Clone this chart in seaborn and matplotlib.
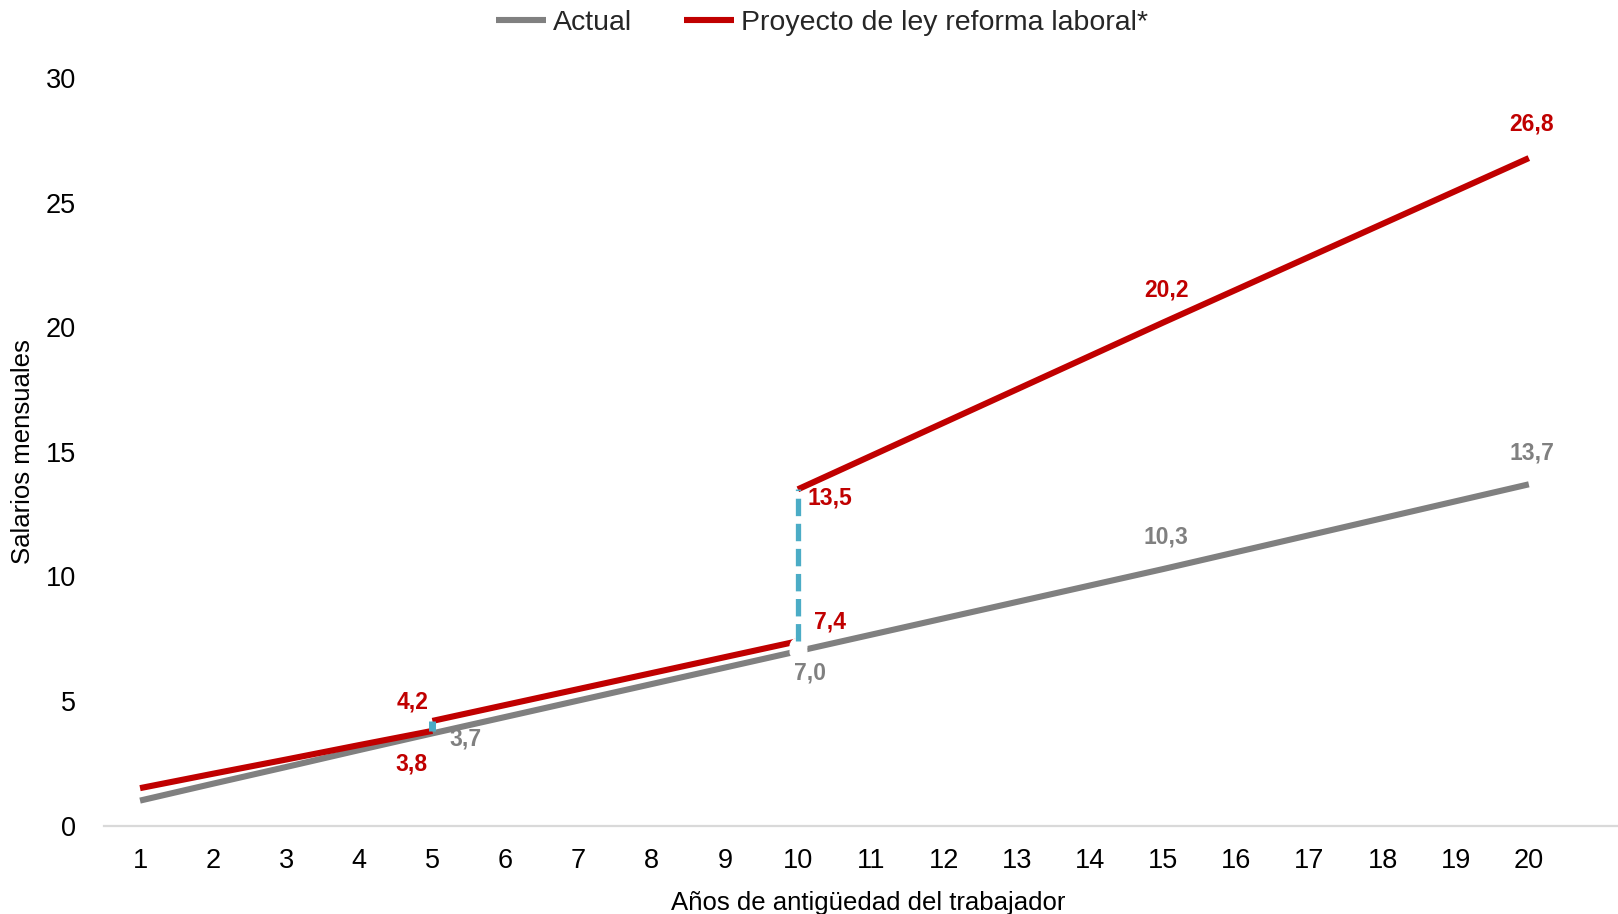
import matplotlib
matplotlib.use("Agg")
import matplotlib.pyplot as plt
import seaborn as sns
import pandas as pd

# Years of seniority and monthly-salary severance under each scheme
years = list(range(1, 21))
actual = [1.0, 1.68, 2.35, 3.03, 3.7, 4.36, 5.02, 5.68, 6.34, 7.0,
          7.66, 8.32, 8.98, 9.64, 10.3, 10.98, 11.66, 12.34, 13.02, 13.7]

# The reform scheme is piecewise, with steps at 5 and 10 years
reform_years_a = [1, 2, 3, 4, 5]
reform_a = [1.5, 2.08, 2.65, 3.23, 3.8]
reform_years_b = [5, 6, 7, 8, 9, 10]
reform_b = [4.2, 4.84, 5.48, 6.12, 6.76, 7.4]
reform_years_c = [10, 11, 12, 13, 14, 15, 16, 17, 18, 19, 20]
reform_c = [13.5, 14.84, 16.18, 17.52, 18.86, 20.2, 21.52, 22.84, 24.16, 25.48, 26.8]

series_labels = ["Actual", "Proyecto de ley reforma laboral*"]
x_label = "Años de antigüedad del trabajador"
y_label = "Salarios mensuales"
y_ticks = [0, 5, 10, 15, 20, 25, 30]

GRAY = "#808080"
RED = "#C00000"
BLUE = "#4BACC6"

sns.set_theme(style="white")
plt.rcParams["font.family"] = ["Liberation Sans", "DejaVu Sans"]

fig = plt.figure(figsize=(16.18, 9.14), dpi=100)
ax = fig.add_axes([104 / 1618, (914 - 825.5) / 914, 1 - 104 / 1618, (825.5 - 78.4) / 914])

lw = 4.4
df_actual = pd.DataFrame({"year": years, "value": actual})
sns.lineplot(data=df_actual, x="year", y="value", color=GRAY, lw=lw, ax=ax,
             label=series_labels[0], solid_capstyle="butt", zorder=3)

for i, (xs, ys) in enumerate([(reform_years_a, reform_a),
                              (reform_years_b, reform_b),
                              (reform_years_c, reform_c)]):
    seg = pd.DataFrame({"year": xs, "value": ys})
    sns.lineplot(data=seg, x="year", y="value", color=RED, lw=lw, ax=ax,
                 label=series_labels[1] if i == 0 else None,
                 solid_capstyle="butt", zorder=4)

# Step connectors
ax.plot([5, 5], [reform_a[-1], reform_b[0]], color=BLUE, lw=5,
        solid_capstyle="butt", zorder=6)
ax.plot([10, 10], [actual[9], actual[9] + 0.2], ls="none", marker="o",
        ms=12, mfc="white", mec="white", zorder=5)
ax.plot([10, 10], [reform_b[-1], reform_c[0]], color=BLUE, lw=3.8,
        dashes=(3.3, 1.45), zorder=6)

# Value labels: (x, value, colour, offset in px)
def label(x, v, color, dx, dy):
    ax.annotate(f"{v:.1f}".replace(".", ","), (x, v),
                xytext=(dx * 0.72, dy * 0.72), textcoords="offset points",
                ha="center", va="center", color=color, fontsize=16.5,
                fontweight="bold", zorder=7)

label(20, reform_c[-1], RED, 3, 34)
label(15, reform_c[5], RED, 3, 32)
label(20, actual[19], GRAY, 3, 31)
label(15, actual[14], GRAY, 3, 32)
label(10, reform_c[0], RED, 32, -9)
label(10, reform_b[-1], RED, 32, 19)
label(10, actual[9], GRAY, 12, -22)
label(5, reform_b[0], RED, -20, 19)
label(5, reform_a[-1], RED, -21, -33)
label(5, actual[4], GRAY, 33, -6)

ax.set_xlim(0.507, 21.22)
ax.set_ylim(0, 30)
ax.set_xticks(years)
ax.set_yticks(y_ticks)
ax.tick_params(axis="both", length=0, labelsize=19.5, colors="black")
ax.tick_params(axis="x", pad=16)
ax.tick_params(axis="y", pad=20)
ax.set_xlabel(x_label, fontsize=18.5)
ax.set_ylabel(y_label, fontsize=18.5, labelpad=8)
ax.xaxis.set_label_coords(0.505, -0.088)
ax.xaxis.label.set_color("black")
ax.yaxis.label.set_color("black")

for side in ["top", "right", "left"]:
    ax.spines[side].set_visible(False)
ax.spines["bottom"].set_color("#D9D9D9")
ax.spines["bottom"].set_linewidth(1.6)
ax.grid(False)

if ax.legend_:
    ax.legend_.remove()
handles, labels = ax.get_legend_handles_labels()
fig.legend(handles[:2], labels[:2], loc="center", bbox_to_anchor=(822 / 1618, 1 - 23 / 914),
           ncol=2, frameon=False, fontsize=20.5, handlelength=1.75,
           handletextpad=0.25, columnspacing=1.8)

fig.savefig("out.png", dpi=100)
